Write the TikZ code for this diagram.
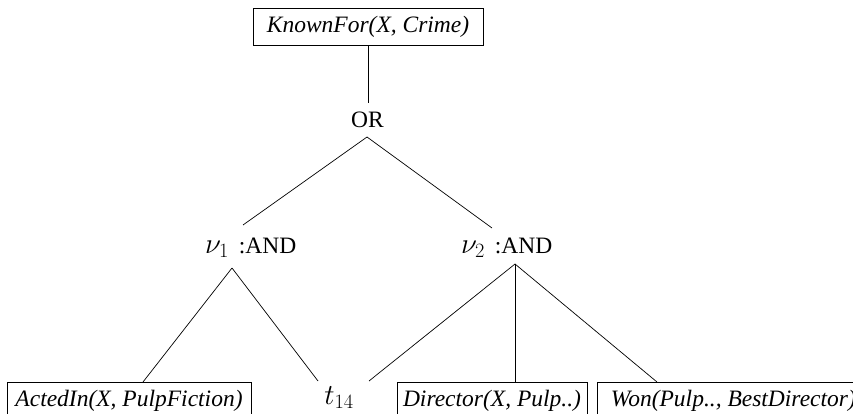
\RequirePackage{fix-cm}
\documentclass[tikz,border=0pt]{standalone}
\usepackage{fontspec}
\setmainfont{Liberation Serif}
\newcommand{\bigmath}[1]{{\fontsize{29}{33}\selectfont$#1$}}
\begin{document}
\begin{tikzpicture}[x=1pt,y=-1pt,
  lbl/.style={font=\fontsize{23.5}{28}\selectfont, inner sep=0pt},
  pred/.style={draw, line width=0.7pt, inner sep=0pt, font=\fontsize{23.5}{28}\selectfont\itshape, minimum height=37pt},
  edge/.style={line width=0.7pt}]
\clip (0,0) rectangle (853,414);
% nodes
\node[pred, minimum width=230pt] (kf) at (368,26.5) {KnownFor(X, Crime)};
\node[lbl, anchor=base] (or) at (367.5,128) {OR};
\node[lbl, anchor=base west] (nu1) at (205,253) {\bigmath{\nu_1}\, :AND};
\node[lbl, anchor=base west] (nu2) at (461,253) {\bigmath{\nu_2}\, :AND};
\node[pred, minimum width=244pt] (acted) at (129,400.5) {ActedIn(X, PulpFiction)};
\node[lbl, anchor=base] (t14) at (339,404) {\bigmath{t_{14}}};
\node[pred, minimum width=190pt] (dir) at (492,400.5) {Director(X, Pulp..)};
\node[pred, minimum width=272pt, anchor=west] (won) at (597,400.5) {Won(Pulp.., BestDirector)};
% connector end points
\coordinate (orN) at (368,103);
\coordinate (orS) at (367,137);
\coordinate (nu1N) at (243,225);
\coordinate (nu1S) at (232,268);
\coordinate (nu2N) at (492,228);
\coordinate (nu2S) at (515,264);
\coordinate (actN) at (143,382);
\coordinate (tL) at (318,381);
\coordinate (tR) at (369,381);
\coordinate (dirN) at (515,382);
\coordinate (wonN) at (657,382);
% connectors
\draw[edge] (kf.south) -- (orN);
\draw[edge] (orS) -- (nu1N);
\draw[edge] (orS) -- (nu2N);
\draw[edge] (nu1S) -- (actN);
\draw[edge] (nu1S) -- (tL);
\draw[edge] (nu2S) -- (tR);
\draw[edge] (nu2S) -- (dirN);
\draw[edge] (nu2S) -- (wonN);
\end{tikzpicture}
\end{document}
